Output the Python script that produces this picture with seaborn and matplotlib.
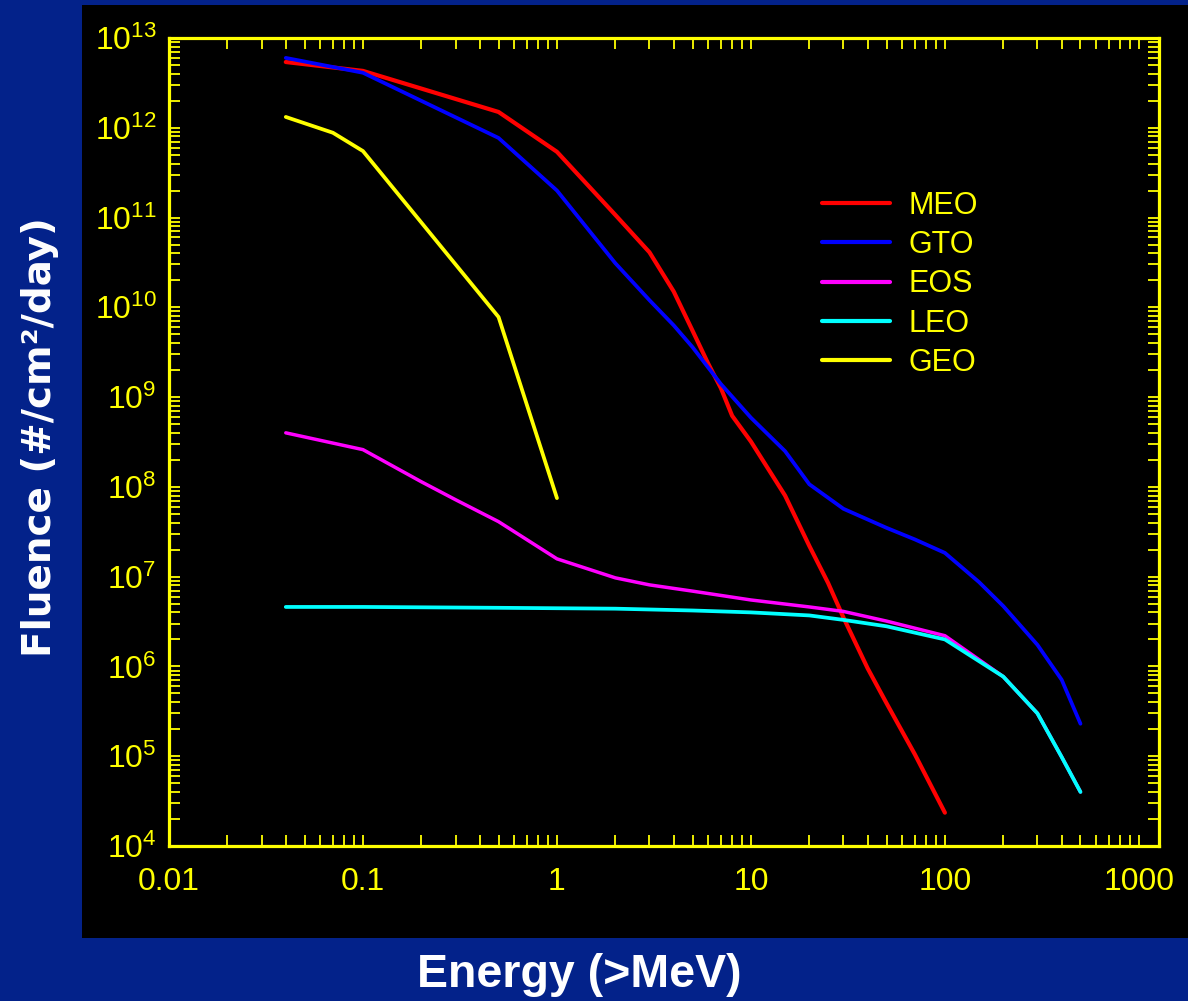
import numpy as np
import pandas as pd
import matplotlib
matplotlib.use("Agg")
import matplotlib.pyplot as plt
from matplotlib import ticker
from matplotlib.patches import Rectangle
import seaborn as sns

# Integral fluence spectra by orbit (energy threshold in MeV, fluence in #/cm2/day)
meo_energy = [0.04, 0.1, 0.5, 1, 2, 3, 4, 5, 6, 7, 8, 10, 15, 20, 25, 30, 40, 50, 70, 100]
meo_fluence = [5.4e12, 4.3e12, 1.5e12, 5.4e11, 1.07e11, 4.1e10, 1.5e10, 5.5e9, 2.4e9,
               1.26e9, 6.2e8, 3.2e8, 8.0e7, 2.2e7, 8.5e6, 3.5e6, 9.5e5, 3.9e5, 1.05e5, 2.35e4]

gto_energy = [0.04, 0.1, 0.5, 1, 2, 3, 4, 5, 7, 10, 15, 20, 30, 50, 70, 100, 150, 200, 300, 400, 500]
gto_fluence = [6.0e12, 4.1e12, 7.7e11, 2.0e11, 3.1e10, 1.2e10, 6.3e9, 3.6e9, 1.4e9, 5.9e8,
               2.5e8, 1.07e8, 5.7e7, 3.5e7, 2.6e7, 1.84e7, 8.7e6, 4.7e6, 1.74e6, 7.1e5, 2.3e5]

eos_energy = [0.04, 0.1, 0.2, 0.3, 0.5, 1, 2, 3, 5, 10, 20, 30, 50, 100, 200, 300, 400, 500]
eos_fluence = [4.0e8, 2.6e8, 1.14e8, 7.2e7, 4.1e7, 1.58e7, 9.7e6, 8.1e6, 6.9e6, 5.5e6,
               4.6e6, 4.1e6, 3.2e6, 2.2e6, 7.7e5, 3.0e5, 9.8e4, 4.0e4]

leo_energy = [0.04, 0.1, 0.5, 1, 2, 5, 10, 20, 30, 50, 100, 200, 300, 400, 500]
leo_fluence = [4.6e6, 4.6e6, 4.5e6, 4.45e6, 4.4e6, 4.2e6, 4.0e6, 3.7e6, 3.3e6, 2.8e6,
               2.0e6, 7.7e5, 3.0e5, 9.8e4, 4.0e4]

geo_energy = [0.04, 0.07, 0.1, 0.5, 1]
geo_fluence = [1.32e12, 8.8e11, 5.5e11, 7.8e9, 7.5e7]

orbits = ["MEO", "GTO", "EOS", "LEO", "GEO"]
orbit_colors = ["#ff0000", "#0000ff", "#ff00ff", "#00ffff", "#ffff00"]
orbit_widths = [3.0, 2.7, 2.5, 2.7, 2.7]

x_ticks = [0.01, 0.1, 1, 10, 100, 1000]

frames = []
for name, e, f in zip(orbits,
                      [meo_energy, gto_energy, eos_energy, leo_energy, geo_energy],
                      [meo_fluence, gto_fluence, eos_fluence, leo_fluence, geo_fluence]):
    frames.append(pd.DataFrame({"energy": e, "fluence": f, "orbit": name}))
df = pd.concat(frames, ignore_index=True)

sns.set_style("dark")
plt.rcParams["font.family"] = ["Liberation Sans", "DejaVu Sans"]
plt.rcParams["mathtext.fontset"] = "custom"
plt.rcParams["mathtext.rm"] = "Liberation Sans"

W, H = 1188, 1001
fig = plt.figure(figsize=(W / 100, H / 100), dpi=100, facecolor="#03228a")

# black panel behind the plot
fig.patches.append(Rectangle((82 / W, 1 - 938 / H), (W - 82) / W, (938 - 5) / H,
                             transform=fig.transFigure, facecolor="black",
                             edgecolor="none", zorder=-5))

ax = fig.add_axes([169 / W, 1 - 846 / H, (1159 - 169) / W, (846 - 38) / H])
ax.set_zorder(2)
ax.set_facecolor("black")

for name, color, lw in zip(orbits, orbit_colors, orbit_widths):
    sns.lineplot(data=df[df["orbit"] == name], x="energy", y="fluence",
                 color=color, linewidth=lw, ax=ax, label=name,
                 estimator=None, sort=False)

ax.set_xscale("log")
ax.set_yscale("log")
ax.set_xlim(0.01, 1270)
ax.set_ylim(1e4, 1e13)
ax.grid(False)
ax.set_xlabel("")
ax.set_ylabel("")

yellow = "#ffff00"
for s in ax.spines.values():
    s.set_color(yellow)
    s.set_linewidth(2.3)
    s.set_visible(True)

ax.xaxis.set_major_locator(ticker.FixedLocator(x_ticks))
ax.xaxis.set_major_formatter(ticker.FuncFormatter(lambda v, p: f"{v:g}"))
ax.xaxis.set_minor_locator(ticker.LogLocator(base=10, subs=np.arange(2, 10), numticks=20))
ax.xaxis.set_minor_formatter(ticker.NullFormatter())
ax.yaxis.set_major_locator(ticker.LogLocator(base=10, numticks=20))
ax.yaxis.set_major_formatter(ticker.LogFormatterSciNotation())
ax.yaxis.set_minor_locator(ticker.LogLocator(base=10, subs=np.arange(2, 10), numticks=20))
ax.yaxis.set_minor_formatter(ticker.NullFormatter())

ax.tick_params(which="both", direction="in", color=yellow, width=1.3,
               top=True, right=True, bottom=True, left=True)
ax.tick_params(which="major", length=8)
ax.tick_params(which="minor", length=8)
ax.tick_params(axis="x", which="major", labelsize=23, labelcolor=yellow, pad=15)
ax.tick_params(axis="y", which="major", labelsize=23, labelcolor=yellow, pad=9)

leg = ax.legend(loc="upper left", bbox_to_anchor=(822 / W, 1 - 191 / H),
                bbox_transform=fig.transFigure, frameon=False, fontsize=22,
                labelcolor=yellow, handlelength=2.22, handletextpad=0.62,
                labelspacing=0.3, borderpad=0, borderaxespad=0)
for h in leg.get_lines():
    h.set_linewidth(3.0)

fig.text(40 / W, 1 - 437 / H, "Fluence (#/cm²/day)", rotation=90, color="white",
         fontsize=28, fontweight="bold", ha="center", va="center",
         family=["DejaVu Sans"])
fig.text(579 / W, 1 - 975 / H, "Energy (>MeV)", color="white",
         fontsize=33.5, fontweight="bold", ha="center", va="center")

fig.savefig("out.png", dpi=100, facecolor=fig.get_facecolor())
